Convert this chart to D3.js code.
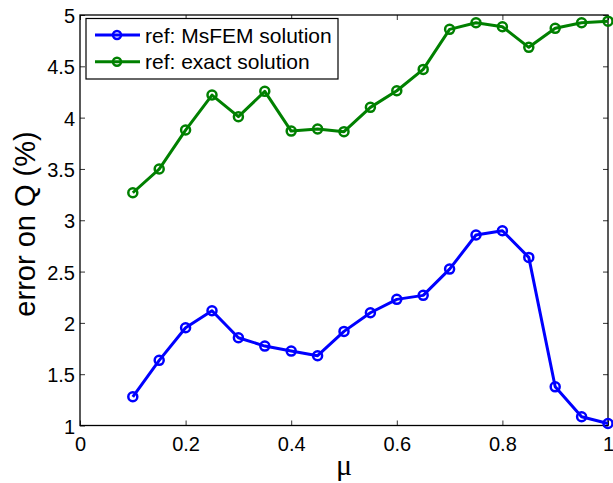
<!DOCTYPE html>
<html>
<head>
<meta charset="utf-8">
<script src="https://cdn.jsdelivr.net/npm/d3@7/dist/d3.min.js"></script>
<style>
  html, body { margin: 0; padding: 0; background: #fff; }
  svg { display: block; }
  text { font-family: "Liberation Sans", Arial, Helvetica, sans-serif; fill: #000; }
</style>
</head>
<body>
<svg id="chart" width="613" height="483"></svg>
<script>
const mu = [0.1, 0.15, 0.2, 0.25, 0.3, 0.35, 0.4, 0.45, 0.5, 0.55, 0.6, 0.65, 0.7, 0.75, 0.8, 0.85, 0.9, 0.95, 1.0];
const msfem = [1.28, 1.635, 1.953, 2.118, 1.855, 1.774, 1.725, 1.68, 1.917, 2.099, 2.229, 2.268, 2.524, 2.856, 2.898, 2.638, 1.377, 1.085, 1.02];
const exact = [3.268, 3.499, 3.879, 4.22, 4.009, 4.256, 3.869, 3.889, 3.863, 4.10, 4.262, 4.47, 4.86, 4.925, 4.886, 4.685, 4.87, 4.925, 4.94];
const xTicks = [0, 0.2, 0.4, 0.6, 0.8, 1];
const yTicks = [1, 1.5, 2, 2.5, 3, 3.5, 4, 4.5, 5];
const seriesNames = ["ref: MsFEM solution", "ref: exact solution"];
const seriesColors = ["#0000ff", "#008000"];
const xLabel = "\u03bc";
const yLabel = "error on Q (%)";

const svg = d3.select("#chart");
const L = 80, R = 608, T = 15, B = 425.5;
const x = d3.scaleLinear().domain([0, 1]).range([L, R]);
const y = d3.scaleLinear().domain([1, 5]).range([B, T]);

// axes
const fmt = d => String(d);
const tickLen = 5;
svg.append("g").attr("transform", `translate(0,${B})`)
  .call(d3.axisBottom(x).tickValues(xTicks).tickFormat(fmt).tickSizeInner(-tickLen).tickSizeOuter(0).tickPadding(11))
  .call(g => { g.select(".domain").remove(); g.selectAll("text").attr("font-size", 20).attr("dy", "0.71em"); g.selectAll("line").attr("stroke", "#333"); });
svg.append("g").attr("transform", `translate(0,${T})`)
  .call(d3.axisTop(x).tickValues(xTicks).tickFormat("").tickSizeInner(-tickLen).tickSizeOuter(0))
  .call(g => { g.select(".domain").remove(); g.selectAll("line").attr("stroke", "#333"); });
svg.append("g").attr("transform", `translate(${L},0)`)
  .call(d3.axisLeft(y).tickValues(yTicks).tickFormat(fmt).tickSizeInner(-tickLen).tickSizeOuter(0).tickPadding(5))
  .call(g => { g.select(".domain").remove(); g.selectAll("text").attr("font-size", 20).attr("dy", "0.38em"); g.selectAll("line").attr("stroke", "#333"); });
svg.append("g").attr("transform", `translate(${R},0)`)
  .call(d3.axisRight(y).tickValues(yTicks).tickFormat("").tickSizeInner(-tickLen).tickSizeOuter(0))
  .call(g => { g.select(".domain").remove(); g.selectAll("line").attr("stroke", "#333"); });

svg.append("rect").attr("x", L).attr("y", T).attr("width", R - L).attr("height", B - T)
  .attr("fill", "none").attr("stroke", "#000").attr("stroke-width", 1.3);

// series
const seriesData = [msfem, exact];
const line = d3.line().x(d => x(d[0])).y(d => y(d[1]));
seriesData.forEach((vals, i) => {
  const pts = mu.map((m, j) => [m, vals[j]]);
  const g = svg.append("g");
  g.append("path").datum(pts).attr("d", line).attr("fill", "none")
    .attr("stroke", seriesColors[i]).attr("stroke-width", 3).attr("stroke-linejoin", "round");
  g.selectAll("circle").data(pts).join("circle")
    .attr("cx", d => x(d[0])).attr("cy", d => y(d[1])).attr("r", 4.5)
    .attr("fill", "none").attr("stroke", seriesColors[i]).attr("stroke-width", 2.5);
});

// labels
svg.append("text").attr("x", (L + R) / 2).attr("y", 475).attr("text-anchor", "middle")
  .style("font-family", "'Liberation Serif', 'DejaVu Serif', serif")
  .attr("font-size", 30).text(xLabel);
svg.append("text").attr("transform", `translate(35,224) rotate(-90)`).attr("text-anchor", "middle")
  .attr("font-size", 29).text(yLabel);

// legend
const lg = svg.append("g");
lg.append("rect").attr("x", 86).attr("y", 18.5).attr("width", 252).attr("height", 60.5)
  .attr("fill", "#fff").attr("stroke", "#000").attr("stroke-width", 1.2);
seriesNames.forEach((name, i) => {
  const cy = 35 + i * 26.7;
  lg.append("line").attr("x1", 95).attr("x2", 140).attr("y1", cy).attr("y2", cy)
    .attr("stroke", seriesColors[i]).attr("stroke-width", 3);
  lg.append("circle").attr("cx", 117).attr("cy", cy).attr("r", 4).attr("fill", "none")
    .attr("stroke", seriesColors[i]).attr("stroke-width", 2.5);
  lg.append("text").attr("x", 145).attr("y", cy).attr("dy", "0.36em").attr("font-size", 21).text(name);
});
</script>
</body>
</html>
